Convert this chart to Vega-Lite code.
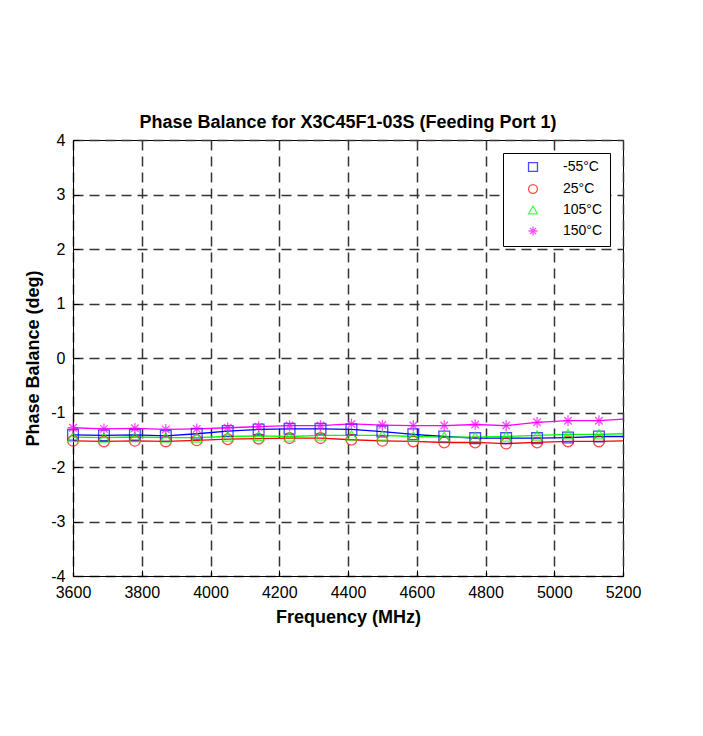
{
  "$schema": "https://vega.github.io/schema/vega-lite/v6.json",
  "autosize": {"type": "none"},
  "width": 550,
  "height": 436,
  "padding": {"left": 73, "top": 140, "right": 80, "bottom": 160},
  "background": "white",
  "title": {
    "text": "Phase Balance for X3C45F1-03S (Feeding Port 1)",
    "font": "Liberation Sans",
    "fontSize": 18,
    "fontWeight": "bold",
    "color": "#000",
    "offset": 0
  },
  "config": {
    "view": {"stroke": "#000", "strokeWidth": 1},
    "axis": {
      "labelFont": "Liberation Sans",
      "titleFont": "Liberation Sans",
      "labelFontSize": 16,
      "titleFontSize": 18,
      "titleFontWeight": "bold",
      "labelColor": "#000",
      "titleColor": "#000",
      "domainColor": "#000",
      "tickColor": "#000",
      "gridColor": "#333",
      "gridDash": [10, 6],
      "gridWidth": 1.5,
      "gridOpacity": 1
    }
  },
  "data": {
    "values": [
      {"freq": 3600, "temp": "-55°C", "value": -1.41}, {"freq": 3600, "temp": "25°C", "value": -1.52}, {"freq": 3600, "temp": "105°C", "value": -1.45}, {"freq": 3600, "temp": "150°C", "value": -1.28},
      {"freq": 3690, "temp": "-55°C", "value": -1.42}, {"freq": 3690, "temp": "25°C", "value": -1.53}, {"freq": 3690, "temp": "105°C", "value": -1.46}, {"freq": 3690, "temp": "150°C", "value": -1.30},
      {"freq": 3780, "temp": "-55°C", "value": -1.41}, {"freq": 3780, "temp": "25°C", "value": -1.52}, {"freq": 3780, "temp": "105°C", "value": -1.45}, {"freq": 3780, "temp": "150°C", "value": -1.29},
      {"freq": 3870, "temp": "-55°C", "value": -1.43}, {"freq": 3870, "temp": "25°C", "value": -1.53}, {"freq": 3870, "temp": "105°C", "value": -1.46}, {"freq": 3870, "temp": "150°C", "value": -1.31},
      {"freq": 3960, "temp": "-55°C", "value": -1.39}, {"freq": 3960, "temp": "25°C", "value": -1.51}, {"freq": 3960, "temp": "105°C", "value": -1.46}, {"freq": 3960, "temp": "150°C", "value": -1.30},
      {"freq": 4050, "temp": "-55°C", "value": -1.34}, {"freq": 4050, "temp": "25°C", "value": -1.49}, {"freq": 4050, "temp": "105°C", "value": -1.44}, {"freq": 4050, "temp": "150°C", "value": -1.28},
      {"freq": 4140, "temp": "-55°C", "value": -1.31}, {"freq": 4140, "temp": "25°C", "value": -1.48}, {"freq": 4140, "temp": "105°C", "value": -1.43}, {"freq": 4140, "temp": "150°C", "value": -1.26},
      {"freq": 4230, "temp": "-55°C", "value": -1.30}, {"freq": 4230, "temp": "25°C", "value": -1.47}, {"freq": 4230, "temp": "105°C", "value": -1.44}, {"freq": 4230, "temp": "150°C", "value": -1.24},
      {"freq": 4320, "temp": "-55°C", "value": -1.30}, {"freq": 4320, "temp": "25°C", "value": -1.47}, {"freq": 4320, "temp": "105°C", "value": -1.42}, {"freq": 4320, "temp": "150°C", "value": -1.24},
      {"freq": 4410, "temp": "-55°C", "value": -1.31}, {"freq": 4410, "temp": "25°C", "value": -1.50}, {"freq": 4410, "temp": "105°C", "value": -1.42}, {"freq": 4410, "temp": "150°C", "value": -1.21},
      {"freq": 4500, "temp": "-55°C", "value": -1.35}, {"freq": 4500, "temp": "25°C", "value": -1.52}, {"freq": 4500, "temp": "105°C", "value": -1.42}, {"freq": 4500, "temp": "150°C", "value": -1.23},
      {"freq": 4590, "temp": "-55°C", "value": -1.40}, {"freq": 4590, "temp": "25°C", "value": -1.53}, {"freq": 4590, "temp": "105°C", "value": -1.44}, {"freq": 4590, "temp": "150°C", "value": -1.24},
      {"freq": 4680, "temp": "-55°C", "value": -1.44}, {"freq": 4680, "temp": "25°C", "value": -1.55}, {"freq": 4680, "temp": "105°C", "value": -1.45}, {"freq": 4680, "temp": "150°C", "value": -1.24},
      {"freq": 4770, "temp": "-55°C", "value": -1.47}, {"freq": 4770, "temp": "25°C", "value": -1.55}, {"freq": 4770, "temp": "105°C", "value": -1.45}, {"freq": 4770, "temp": "150°C", "value": -1.22},
      {"freq": 4860, "temp": "-55°C", "value": -1.47}, {"freq": 4860, "temp": "25°C", "value": -1.57}, {"freq": 4860, "temp": "105°C", "value": -1.44}, {"freq": 4860, "temp": "150°C", "value": -1.24},
      {"freq": 4950, "temp": "-55°C", "value": -1.47}, {"freq": 4950, "temp": "25°C", "value": -1.55}, {"freq": 4950, "temp": "105°C", "value": -1.42}, {"freq": 4950, "temp": "150°C", "value": -1.18},
      {"freq": 5040, "temp": "-55°C", "value": -1.46}, {"freq": 5040, "temp": "25°C", "value": -1.53}, {"freq": 5040, "temp": "105°C", "value": -1.40}, {"freq": 5040, "temp": "150°C", "value": -1.15},
      {"freq": 5130, "temp": "-55°C", "value": -1.44}, {"freq": 5130, "temp": "25°C", "value": -1.53}, {"freq": 5130, "temp": "105°C", "value": -1.40}, {"freq": 5130, "temp": "150°C", "value": -1.15},
      {"freq": 5200, "temp": "-55°C", "value": -1.44}, {"freq": 5200, "temp": "25°C", "value": -1.52}, {"freq": 5200, "temp": "105°C", "value": -1.39}, {"freq": 5200, "temp": "150°C", "value": -1.12}
    ]
  },
  "encoding": {
    "x": {
      "field": "freq",
      "type": "quantitative",
      "title": "Frequency (MHz)",
      "scale": {"domain": [3600, 5200], "nice": false, "zero": false},
      "axis": {"values": [3600, 3800, 4000, 4200, 4400, 4600, 4800, 5000, 5200], "format": "d", "tickSize": -6, "labelPadding": 14, "titlePadding": 8, "labelFlush": false}
    },
    "y": {
      "field": "value",
      "type": "quantitative",
      "title": "Phase Balance (deg)",
      "scale": {"domain": [-4, 4], "nice": false, "zero": false},
      "axis": {"values": [-4, -3, -2, -1, 0, 1, 2, 3, 4], "labelExpr": "'' + datum.value", "tickSize": -6, "labelPadding": 14, "titlePadding": 8, "labelFlush": false}
    },
    "color": {
      "field": "temp",
      "type": "nominal",
      "scale": {"domain": ["-55°C", "25°C", "105°C", "150°C"], "range": ["#0000FF", "#FF0000", "#00FF00", "#FF00FF"]},
      "legend": {
        "title": null,
        "orient": "none",
        "legendX": 430,
        "legendY": 13,
        "strokeColor": "#000",
        "fillColor": "#fff",
        "padding": 7,
        "labelFont": "Liberation Sans",
        "labelFontSize": 14,
        "labelColor": "#000",
        "symbolOffset": 16,
        "labelOffset": 23,
        "rowPadding": 6,
        "symbolSize": 80,
        "symbolStrokeWidth": 1.3,
        "symbolFillColor": "transparent"
      }
    }
  },
  "layer": [
    {
      "mark": {"type": "line", "strokeWidth": 1.3}
    },
    {
      "transform": [{"filter": "datum.freq < 5200"}],
      "mark": {"type": "point", "filled": false, "size": 115, "strokeWidth": 1.3},
      "encoding": {
        "shape": {
          "field": "temp",
          "type": "nominal",
          "scale": {"domain": ["-55°C", "25°C", "105°C", "150°C"], "range": ["square", "circle", "triangle-up", "M0,-1L0,1M-1,0L1,0M-0.7,-0.7L0.7,0.7M-0.7,0.7L0.7,-0.7"]},
          "legend": {
            "title": null,
            "orient": "none",
            "legendX": 430,
            "legendY": 13
          }
        }
      }
    }
  ]
}
